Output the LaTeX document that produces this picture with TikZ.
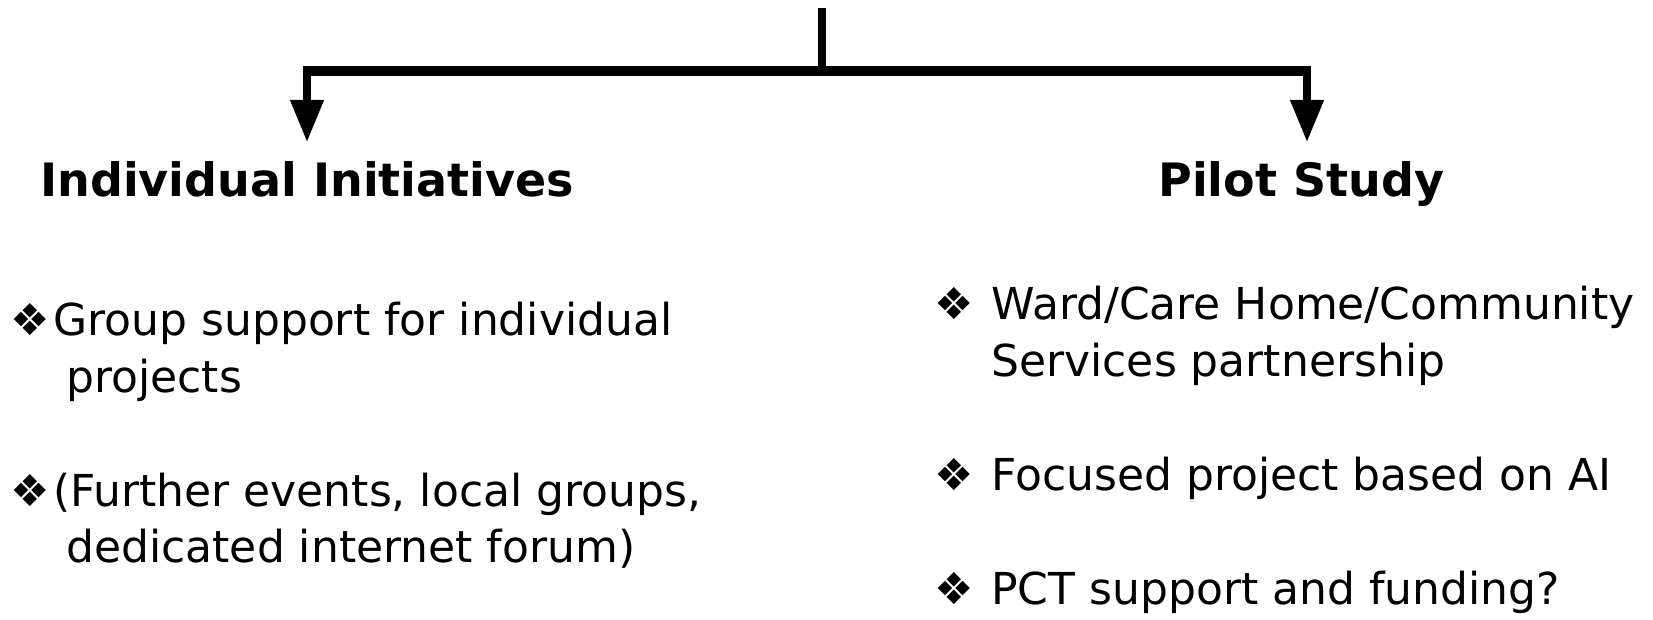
\documentclass[tikz,border=0pt]{standalone}
\usepackage{fontspec}
\setmainfont{DejaVu Sans}
\usetikzlibrary{arrows.meta, positioning}

\tikzset{
    head/.style={anchor=base west, inner sep=0pt, font=\fontsize{23}{28}\selectfont\bfseries},
    item/.style={anchor=base west, inner sep=0pt, font=\fontsize{22}{26}\selectfont},
    bul/.style={anchor=base west, inner sep=0pt, font=\fontsize{22}{26}\selectfont},
    arr/.style={line width=3.7pt, -{Triangle[length=21pt, width=16pt]}}
}

\begin{document}
\begin{tikzpicture}[x=0.5pt, y=-0.5pt]
                \useasboundingbox (0,0) rectangle (1653,620);

                \coordinate (top) at (822,8);
                \coordinate (bar) at (822,71);
                \coordinate (lb) at (307,71);
                \coordinate (rb) at (1307,71);
                \coordinate (lt) at (307,142);
                \coordinate (rt) at (1307,142);

                \draw[line width=4pt] (top) -- (bar);
                \draw[line width=5.3pt] ([xshift=-1.85pt]lb) -- ([xshift=1.85pt]rb);
                \draw[arr] (lb) -- (lt);
                \draw[arr] (rb) -- (rt);

                \node[head] (ini) at (40,197) {Individual Initiatives};
                \node[head] (pil) at (1158,197) {Pilot Study};

                \node[bul] (b1) at (10,335) {❖};
                \node[item] (g1) at (53,335) {Group support for individual};
                \node[item] (g2) at (66,392) {projects};
                \node[bul] (b2) at (10,506) {❖};
                \node[item] (f1) at (53,506) {(Further events, local groups,};
                \node[item] (f2) at (66,562) {dedicated internet forum)};

                \node[bul] (b3) at (934,319) {❖};
                \node[item] (w1) at (991,319) {Ward/Care Home/Community};
                \node[item] (w2) at (991,376) {Services partnership};
                \node[bul] (b4) at (934,490) {❖};
                \node[item] (p1) at (991,490) {Focused project based on AI};
                \node[bul] (b5) at (934,604) {❖};
                \node[item] (c1) at (991,604) {PCT support and funding?};
            \end{tikzpicture}
\end{document}
